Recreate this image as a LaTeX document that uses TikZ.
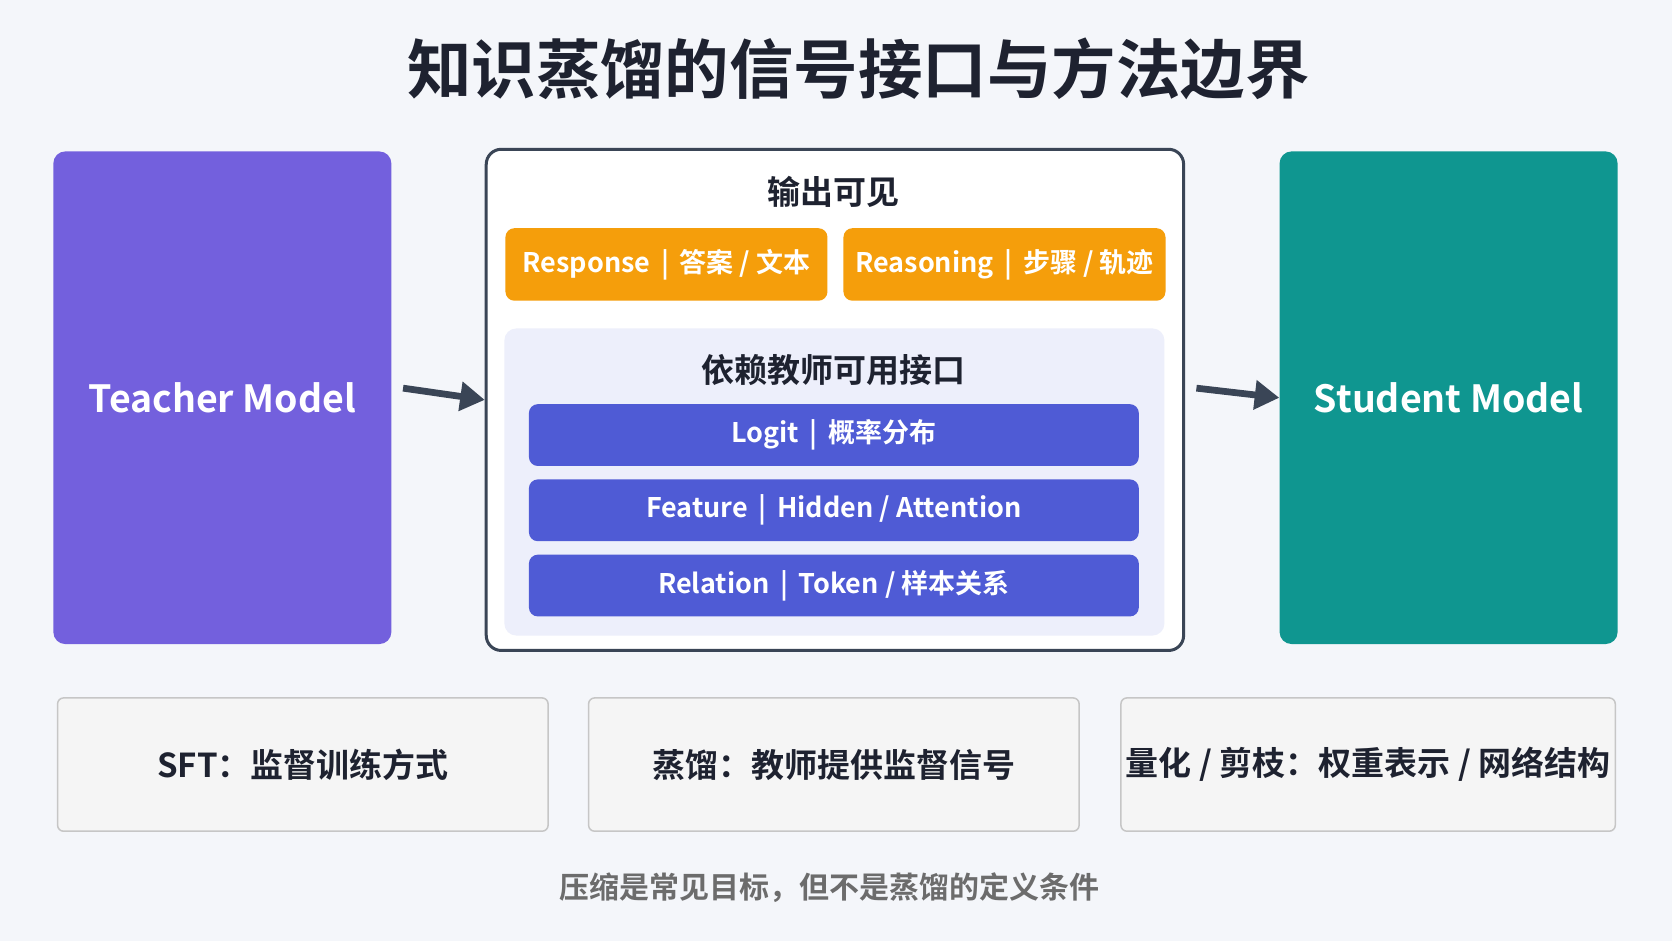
\documentclass[tikz,border=0pt]{standalone}
\usepackage{fontspec}
\setmainfont{Noto Sans CJK SC}[BoldFont={* Bold}]
\usetikzlibrary{positioning, calc, arrows.meta}
\definecolor{bgc}{HTML}{F4F6FA}
\definecolor{ink}{HTML}{1E2230}
\definecolor{purp}{HTML}{7360DD}
\definecolor{teal}{HTML}{0F9690}
\definecolor{oran}{HTML}{F59E0B}
\definecolor{blu}{HTML}{4F5BD5}
\definecolor{lav}{HTML}{EDEFFB}
\definecolor{arr}{HTML}{3A4556}
\begin{document}
\begin{tikzpicture}[x=0.025cm, y=-0.025cm, font=\bfseries, >=Triangle,
	model/.style={rounded corners=8pt, minimum width=317*0.025cm, minimum height=462*0.025cm, text=white, font=\fontsize{25}{30}\selectfont\bfseries},
	tag/.style={fill=oran, rounded corners=6pt, minimum width=302*0.025cm, minimum height=68*0.025cm, text=white, font=\fontsize{18}{22}\selectfont\bfseries},
	bar/.style={fill=blu, rounded corners=6pt, minimum width=572*0.025cm, minimum height=58*0.025cm, text=white, font=\fontsize{18}{22}\selectfont\bfseries},
	note/.style={fill=gray!8, draw=gray!45, line width=1pt, rounded corners=4pt, minimum width=460*0.025cm, minimum height=125*0.025cm, text=ink, font=\fontsize{22}{26}\selectfont\bfseries},
	link/.style={->, line width=4.5pt, draw=arr}
	]
	\fill[bgc] (0,0) rectangle (1568,882);
	\node[text=ink, font=\fontsize{43}{50}\selectfont\bfseries] (title) at (805,65) {知识蒸馏的信号接口与方法边界};
	
	%Modelos
	\node[model, fill=purp] (T) at (208.5,373) {Teacher Model};
	\node[model, fill=teal] (S) at (1358.5,373) {Student Model};
	
	%Caixa central
	\node[draw=arr, fill=white, line width=2pt, rounded corners=10pt, minimum width=654*0.025cm, minimum height=470*0.025cm] (C) at (783,375) {};
	\node[text=ink, font=\fontsize{22}{26}\selectfont\bfseries] (out) at (782,180) {输出可见};
	\node[tag] (R1) at (625,248) {Response {\color{white!70}\,|\,} 答案 / 文本};
	\node[tag] (R2) at (942,248) {Reasoning {\color{white!70}\,|\,} 步骤 / 轨迹};
	\node[fill=lav, rounded corners=8pt, minimum width=619*0.025cm, minimum height=288*0.025cm] (I) at (782.5,452) {};
	\node[text=ink, font=\fontsize{22}{26}\selectfont\bfseries] (dep) at (782,347) {依赖教师可用接口};
	\node[bar] (L) at (782,408) {Logit {\color{white!70}\,|\,} 概率分布};
	\node[bar, below=12*0.025cm of L] (F) {Feature {\color{white!70}\,|\,} Hidden / Attention};
	\node[bar, below=12*0.025cm of F] (Rel) {Relation {\color{white!70}\,|\,} Token / 样本关系};
	
	%Setas
	\coordinate (a1) at (378,364);
	\coordinate (a2) at (1122,364);
	\draw[link] (a1) -- (C.west);
	\draw[link] (a2) -- (S.west);
	
	%Notas
	\node[note] (N1) at (284,717) {SFT：监督训练方式};
	\node[note] (N2) at (782,717) {蒸馏：教师提供监督信号};
	\node[note] (N3) at (1283,717) {量化 / 剪枝：权重表示 / 网络结构};
	\node[text=gray!85!black, font=\fontsize{20}{24}\selectfont\bfseries] (foot) at (778,832) {压缩是常见目标，但不是蒸馏的定义条件};
\end{tikzpicture}
\end{document}
